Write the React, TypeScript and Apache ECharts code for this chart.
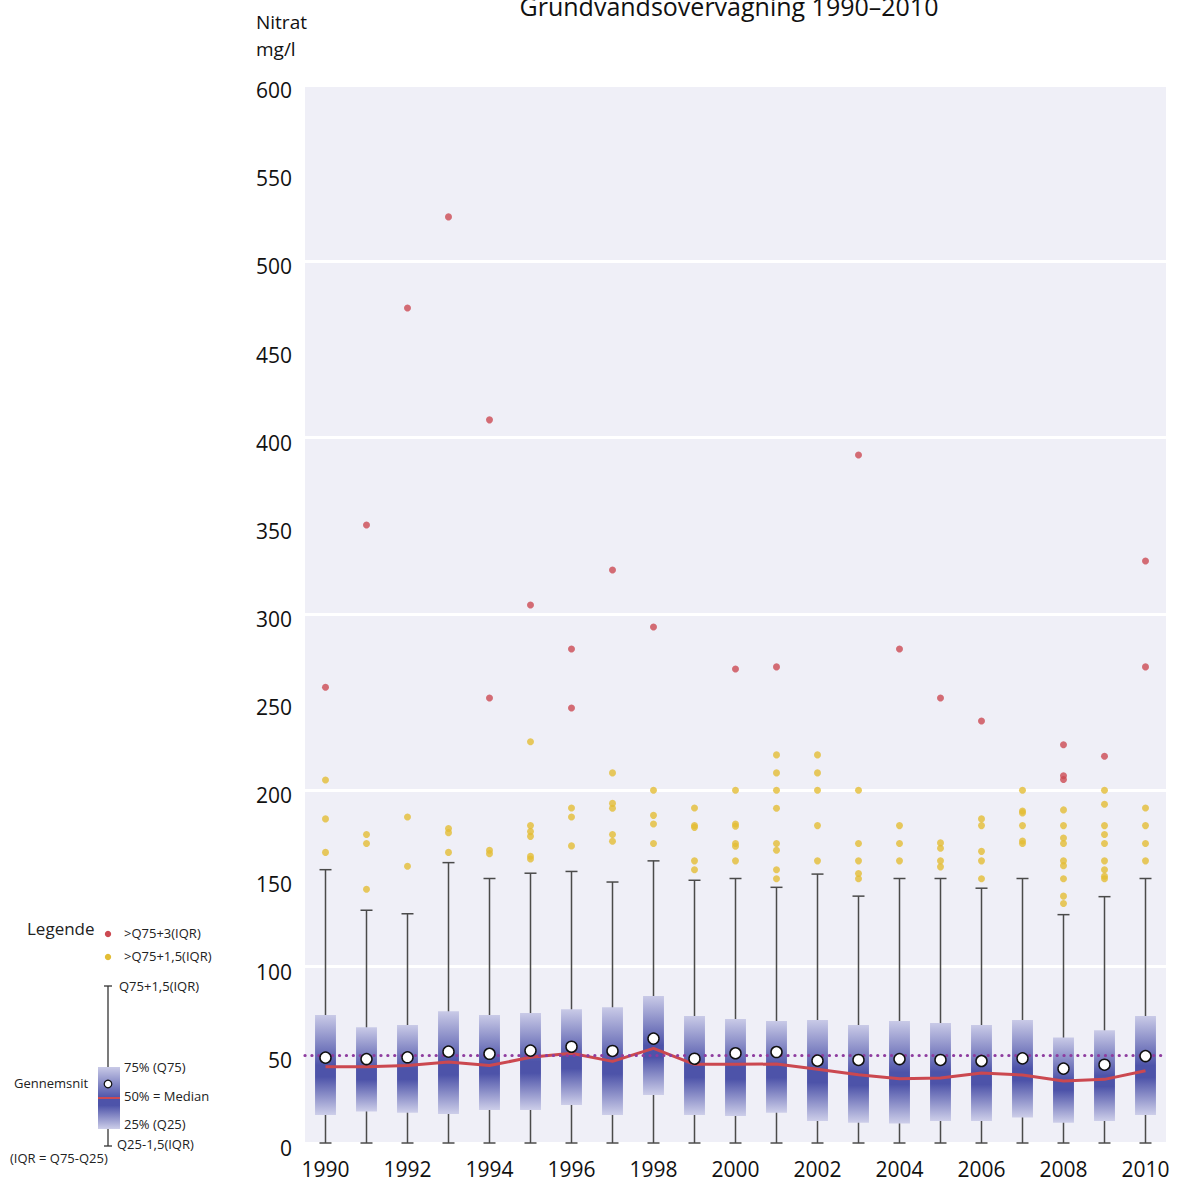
import React, { useEffect, useRef } from "react";
import * as echarts from "echarts";

const years = ["1990","1991","1992","1993","1994","1995","1996","1997","1998","1999","2000","2001","2002","2003","2004","2005","2006","2007","2008","2009","2010"];
const whiskerLow = [0,0,0,0,0,0,0,0,0,0,0,0,0,0,0,0,0,0,0,0,0];
const q1 = [15.9,17.8,17.2,16.4,18.7,18.7,21.6,15.9,27.2,15.9,15.3,17.2,12.5,11.5,11.0,12.5,12.5,14.4,11.5,12.5,15.9];
const q3 = [72.6,65.6,66.9,74.7,72.6,73.7,75.8,77.0,83.4,72.0,70.3,69.2,69.8,66.9,69.2,68.1,66.9,69.8,59.9,63.9,72.0];
const whiskerHigh = [155,132,130,159,150,153,154,148,160,149,150,145,152.5,140,150,150,144.5,150,129.5,139.7,150];
const medians = [43.3,43.3,43.9,45.9,43.9,48.6,50.9,46.3,53.7,44.6,44.6,44.8,41.8,38.7,36.5,36.9,39.7,38.6,35.2,36.1,41.0];
const means = [48.4,47.6,48.6,51.8,50.6,52.4,54.6,52.2,59.2,47.8,50.9,51.6,46.7,47.1,47.6,47.1,46.5,48.0,42.2,44.4,49.3];
const limitValue = 50;
const yellowOutliers = [
  [205.9,183.8,164.8],
  [175.0,169.8,143.9],
  [184.9,156.9],
  [178.4,176.0,164.8],
  [166.0,164.1],
  [227.6,180.0,176.6,173.9,162.6,161.1],
  [190.0,184.9,168.5],
  [209.9,192.6,189.8,175.0,171.1],
  [200,185.8,180.9,169.8],
  [190,180,179,160,155],
  [200,180.9,179.6,169.8,168.3,160],
  [220.1,209.9,200,189.8,169.8,166.0,155,149.9],
  [220.1,209.9,200,180,160],
  [200,169.8,160,152.8,149.9],
  [180,169.8,160],
  [170.2,167.2,160,156.6],
  [183.8,180,165.4,160,149.9],
  [200,188.3,187.2,180,171.3,169.8],
  [188.9,180,173,169.8,160,157.3,149.9,140,135.8],
  [200,192.1,180,175,169.8,160,155,151.3,149.9],
  [190,180,169.8,160]
];
const redOutliers = [
  [258.5],
  [350.5],
  [473.5],
  [525.2],
  [410.1,252.4],
  [305.1],
  [280.2,246.7],
  [325.0],
  [292.6],
  [],
  [268.8],
  [270],
  [],
  [390.2],
  [280.2],
  [252.4],
  [239.3],
  [],
  [225.9,208.3,206.1],
  [219.3],
  [330.1,270]
];
const yTicks = { min: 0, max: 600, interval: 50, gridInterval: 100 };

const FONT = "'Open Sans', 'Noto Sans', sans-serif";
const boxGradient = () =>
  new echarts.graphic.LinearGradient(0, 0, 0, 1, [
    { offset: 0, color: "#c9cae7" },
    { offset: 0.5, color: "#4d53a9" },
    { offset: 0.62, color: "#4d53a9" },
    { offset: 1, color: "#cdcee9" },
  ]);

export default function App() {
  const ref = useRef<HTMLDivElement>(null);
  useEffect(() => {
    if (!ref.current) return;
    const chart = echarts.init(ref.current, null, { renderer: "svg" });
    const boxData = years.map((_, i) => [i, whiskerLow[i], q1[i], q3[i], whiskerHigh[i]]);
    const yellowData: number[][] = [];
    yellowOutliers.forEach((arr, i) => arr.forEach((v) => yellowData.push([i, v])));
    const redData: number[][] = [];
    redOutliers.forEach((arr, i) => arr.forEach((v) => redData.push([i, v])));

    const lx = 108; // legend whisker x
    const legendText = (x: number, y: number, text: string, size = 13) => ({
      type: "text",
      x,
      y,
      style: { text, font: `${size}px ${FONT}`, fill: "#222", verticalAlign: "middle", align: "left" },
      z: 10,
    });

    chart.setOption({
      animation: false,
      backgroundColor: "#ffffff",
      textStyle: { fontFamily: FONT },
      grid: {
        left: 305,
        right: 13,
        top: 85,
        bottom: 37,
        show: true,
        backgroundColor: "#efeff7",
        borderWidth: 0,
      },
      xAxis: {
        type: "category",
        data: years,
        boundaryGap: true,
        axisLine: { show: false },
        axisTick: { show: false },
        axisLabel: { interval: 1, fontSize: 21, color: "#111", margin: 16, lineHeight: 20, fontFamily: FONT },
        splitLine: { show: false },
      },
      yAxis: [
        {
          type: "value",
          min: yTicks.min,
          max: yTicks.max,
          interval: yTicks.interval,
          axisLine: { show: false },
          axisTick: { show: false },
          axisLabel: {
            fontSize: 21,
            color: "#111",
            margin: 13,
            fontFamily: FONT,
            verticalAlign: "top",
            lineHeight: 10,
          },
          splitLine: { show: false },
        },
        {
          type: "value",
          position: "left",
          min: yTicks.min,
          max: yTicks.max,
          interval: yTicks.gridInterval,
          axisLine: { show: false },
          axisTick: { show: false },
          axisLabel: { show: false },
          splitLine: { show: true, lineStyle: { color: "#ffffff", width: 3 } },
        },
      ],
      graphic: [
        {
          type: "text",
          x: 729,
          y: 18,
          style: {
            text: "Grundvandsovervågning 1990–2010",
            font: `25px ${FONT}`,
            fill: "#111",
            align: "center",
            verticalAlign: "bottom",
          },
        },
        { type: "text", x: 256, y: 22, style: { text: "Nitrat", font: `19px ${FONT}`, fill: "#111", verticalAlign: "middle" } },
        { type: "text", x: 256, y: 49, style: { text: "mg/l", font: `19px ${FONT}`, fill: "#111", verticalAlign: "middle" } },
        // legend
        legendText(27, 928, "Legende", 17),
        { type: "circle", shape: { cx: lx, cy: 934, r: 3.2 }, style: { fill: "#cc4a52" } },
        legendText(124, 933, ">Q75+3(IQR)"),
        { type: "circle", shape: { cx: lx, cy: 957, r: 3.2 }, style: { fill: "#e3bd35" } },
        legendText(124, 956, ">Q75+1,5(IQR)"),
        { type: "line", shape: { x1: lx, y1: 986, x2: lx, y2: 1146 }, style: { stroke: "#333", lineWidth: 1.3 } },
        { type: "line", shape: { x1: lx - 4, y1: 986, x2: lx + 4, y2: 986 }, style: { stroke: "#333", lineWidth: 1.3 } },
        { type: "line", shape: { x1: lx - 4, y1: 1146, x2: lx + 4, y2: 1146 }, style: { stroke: "#333", lineWidth: 1.3 } },
        legendText(119, 986, "Q75+1,5(IQR)"),
        { type: "rect", shape: { x: 98, y: 1067, width: 22, height: 62 }, style: { fill: boxGradient() } },
        { type: "line", shape: { x1: 98, y1: 1098, x2: 120, y2: 1098 }, style: { stroke: "#cc4a52", lineWidth: 2 } },
        { type: "circle", shape: { cx: lx, cy: 1084, r: 3.8 }, style: { fill: "#fff", stroke: "#111", lineWidth: 1.2 } },
        legendText(124, 1067, "75% (Q75)"),
        legendText(124, 1096, "50% = Median"),
        legendText(124, 1124, "25% (Q25)"),
        legendText(117, 1144, "Q25-1,5(IQR)"),
        legendText(14, 1083, "Gennemsnit"),
        legendText(10, 1158, "(IQR = Q75-Q25)"),
      ],
      series: [
        {
          type: "line",
          name: "limit",
          data: [],
          symbol: "none",
          z: 1,
          markLine: {
            silent: true,
            symbol: ["none", "none"],
            label: { show: false },
            lineStyle: { color: "#8e3c9f", width: 3.2, type: [0.1, 6.8], cap: "round" },
            data: [{ yAxis: limitValue }],
          },
        },
        {
          type: "custom",
          name: "boxes",
          z: 2,
          data: boxData,
          encode: { x: 0, y: [1, 2, 3, 4] },
          renderItem: (params: any, api: any) => {
            const i = api.value(0);
            const lo = api.coord([i, api.value(1)]);
            const b1 = api.coord([i, api.value(2)]);
            const b3 = api.coord([i, api.value(3)]);
            const hi = api.coord([i, api.value(4)]);
            const bw = api.size([1, 0])[0] * 0.51;
            const cap = 12;
            const x = lo[0];
            const ls = { stroke: "#4a4a4a", lineWidth: 1.5 };
            return {
              type: "group",
              children: [
                { type: "line", shape: { x1: x, y1: hi[1], x2: x, y2: lo[1] }, style: ls },
                { type: "line", shape: { x1: x - cap / 2, y1: hi[1], x2: x + cap / 2, y2: hi[1] }, style: ls },
                { type: "line", shape: { x1: x - cap / 2, y1: lo[1], x2: x + cap / 2, y2: lo[1] }, style: ls },
                {
                  type: "rect",
                  shape: { x: x - bw / 2, y: b3[1], width: bw, height: b1[1] - b3[1] },
                  style: { fill: boxGradient() },
                },
              ],
            };
          },
        },
        {
          type: "scatter",
          name: "yellow",
          data: yellowData,
          symbol: "circle",
          symbolSize: 7,
          itemStyle: { color: "#e3bd35" },
          z: 3,
        },
        {
          type: "scatter",
          name: "red",
          data: redData,
          symbol: "circle",
          symbolSize: 7,
          itemStyle: { color: "#cc4a52" },
          z: 3,
        },
        {
          type: "line",
          name: "median",
          data: medians,
          symbol: "none",
          lineStyle: { color: "#cb4850", width: 3 },
          z: 4,
        },
        {
          type: "scatter",
          name: "mean",
          data: means,
          symbol: "circle",
          symbolSize: 11,
          itemStyle: { color: "#ffffff", borderColor: "#111", borderWidth: 1.5, opacity: 1 },
          z: 5,
        },
      ],
    });
    return () => chart.dispose();
  }, []);
  return (
    <div
      ref={ref}
      style={{ position: "fixed", left: 0, top: 0, width: 1179, height: 1180 }}
    />
  );
}
